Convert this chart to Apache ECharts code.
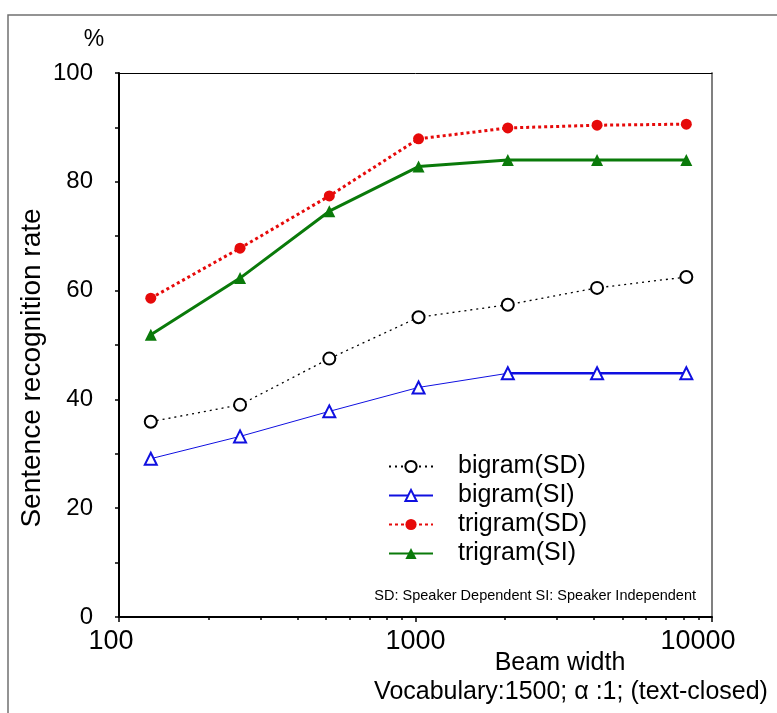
<!DOCTYPE html>
<html>
<head>
<meta charset="utf-8">
<script src="https://cdn.jsdelivr.net/npm/echarts@6/dist/echarts.min.js"></script>
<style>
  html, body { margin: 0; padding: 0; background: #fff; }
  #chart { width: 777px; height: 713px; }
</style>
</head>
<body>
<div id="chart"></div>
<script>
// beam widths (x, log scale)
const beamWidth = [128, 256, 512, 1024, 2048, 4096, 8192];
// sentence recognition rate (%)
const bigramSD = [35.9, 39.0, 47.5, 55.1, 57.4, 60.5, 62.5];
const bigramSI = [29.1, 33.2, 37.8, 42.2, 44.8, 44.8, 44.8];
const trigramSD = [58.6, 67.8, 77.4, 87.9, 89.9, 90.4, 90.6];
const trigramSI = [51.9, 62.3, 74.6, 82.8, 84.0, 84.0, 84.0];
const minorTicks = [200, 300, 400, 500, 600, 700, 800, 900, 2000, 3000, 4000, 5000, 6000, 7000, 8000, 9000];
const seriesNames = ['bigram(SD)', 'bigram(SI)', 'trigram(SD)', 'trigram(SI)'];

const font = 'Liberation Sans';
const pairs = ys => beamWidth.map((x, i) => [x, ys[i]]);

const chart = echarts.init(document.getElementById('chart'));
chart.setOption({
  animation: false,
  textStyle: { fontFamily: font, color: '#000' },
  grid: { left: 119, top: 73, right: 65, bottom: 96 },
  xAxis: [
    {
      type: 'log', logBase: 10, min: 100, max: 10000, position: 'bottom',
      axisLine: { lineStyle: { color: '#000', width: 2 } },
      axisTick: { length: 5, lineStyle: { color: '#000', width: 1.5 } },
      axisLabel: {
        fontSize: 27, margin: 11, color: '#000', fontFamily: font,
        formatter: v => (v === 10000 ? '{r|10000}' : v === 100 ? '{l|100}' : String(v)),
        rich: {
          r: { fontSize: 27, fontFamily: font, color: '#000', padding: [0, 28, 0, 0] },
          l: { fontSize: 27, fontFamily: font, color: '#000', padding: [0, 16, 0, 0] }
        }
      },
      splitLine: { show: false }
    },
    {
      type: 'log', logBase: 10, min: 100, max: 10000, position: 'bottom',
      axisLine: { show: false },
      axisTick: { customValues: minorTicks, length: 3, lineStyle: { color: '#000', width: 1.5 } },
      axisLabel: { show: false },
      splitLine: { show: false }
    },
    {
      type: 'log', logBase: 10, min: 100, max: 10000, position: 'top',
      axisLine: { lineStyle: { color: '#000', width: 1 } },
      axisTick: { show: false },
      axisLabel: { show: false },
      splitLine: { show: false }
    }
  ],
  yAxis: [
    {
      type: 'value', min: 0, max: 100, interval: 10,
      axisLine: { show: true, lineStyle: { color: '#000', width: 2 } },
      axisTick: { show: true, length: 4, lineStyle: { color: '#000', width: 1.5 } },
      axisLabel: {
        fontSize: 24, margin: 26, color: '#000', fontFamily: font,
        formatter: v => (v % 20 === 0 ? v : '')
      },
      splitLine: { show: false }
    },
    {
      type: 'value', min: 0, max: 100, position: 'right',
      axisLine: { show: true, lineStyle: { color: '#808080', width: 2 } },
      axisTick: { show: false },
      axisLabel: { show: false },
      splitLine: { show: false }
    }
  ],
  legend: {
    data: seriesNames,
    orient: 'vertical',
    left: 383, top: 449,
    itemWidth: 44, itemHeight: 14, itemGap: 4,
    textStyle: { fontSize: 25, color: '#000', fontFamily: font, padding: [0, 0, 0, 20] }
  },
  series: [
    {
      name: 'bigram(SD)', type: 'line', data: pairs(bigramSD),
      symbol: 'emptyCircle', symbolSize: 12,
      lineStyle: { color: '#000', width: 1.3, type: [2, 4] },
      itemStyle: { color: '#000', borderColor: '#000', borderWidth: 1.2 }
    },
    {
      name: 'bigram(SI)', type: 'line', data: pairs(bigramSI),
      symbol: 'emptyTriangle', symbolSize: 12,
      lineStyle: { color: '#1010e0', width: 1 },
      itemStyle: { color: '#1010e0', borderColor: '#1010e0', borderWidth: 1.3 }
    },
    {
      name: 'bigram(SI) tail', type: 'line', data: pairs(bigramSI).slice(4),
      symbol: 'none', z: 1,
      lineStyle: { color: '#1010e0', width: 2.5 }
    },
    {
      name: 'trigram(SD)', type: 'line', data: pairs(trigramSD),
      symbol: 'circle', symbolSize: 11,
      lineStyle: { color: '#e60a0a', width: 3, type: [3, 3] },
      itemStyle: { color: '#e60a0a' }
    },
    {
      name: 'trigram(SI)', type: 'line', data: pairs(trigramSI),
      symbol: 'triangle', symbolSize: 12,
      lineStyle: { color: '#0a7a0a', width: 3 },
      itemStyle: { color: '#0a7a0a' }
    }
  ],
  graphic: [
    {
      type: 'rect', silent: true,
      shape: { x: 8, y: 15, width: 820, height: 760 },
      style: { fill: 'none', stroke: '#707070', lineWidth: 1.5 }
    },
    {
      type: 'text', x: 94, y: 40,
      style: { text: '%', fontSize: 23, fontFamily: font, fill: '#000', align: 'center', verticalAlign: 'middle' }
    },
    {
      type: 'text', x: 32, y: 368, rotation: Math.PI / 2,
      style: { text: 'Sentence recognition rate', fontSize: 28, fontFamily: font, fill: '#000', align: 'center', verticalAlign: 'middle' }
    },
    {
      type: 'text', x: 560, y: 663,
      style: { text: 'Beam width', fontSize: 25, fontFamily: font, fill: '#000', align: 'center', verticalAlign: 'middle' }
    },
    {
      type: 'text', x: 571, y: 692,
      style: { text: 'Vocabulary:1500; \u03b1 :1; (text-closed)', fontSize: 25, fontFamily: font, fill: '#000', align: 'center', verticalAlign: 'middle' }
    },
    {
      type: 'text', x: 696, y: 596,
      style: { text: 'SD: Speaker Dependent SI: Speaker Independent', fontSize: 14.5, fontFamily: font, fill: '#000', align: 'right', verticalAlign: 'middle' }
    }
  ]
});
</script>
</body>
</html>
